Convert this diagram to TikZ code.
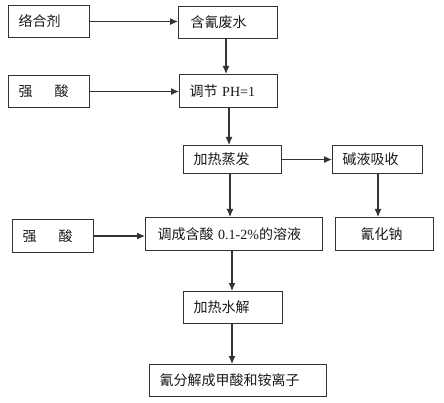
\documentclass[tikz,border=0pt]{standalone}
\usepackage{fontspec}
\setmainfont{Liberation Serif}
\newfontfamily\cjk{Noto Sans CJK SC}
\usetikzlibrary{arrows.meta}
\begin{document}
\begin{tikzpicture}[x=1pt,y=-1pt,
  flowbox/.style={draw=black!80,line width=1.1pt,anchor=north west,inner xsep=10pt,inner ysep=0pt,
    align=left,font=\fontsize{14}{16}\selectfont,text=black!90},
  arr/.style={draw=black!80,line width=1.1pt,-{Latex[length=8pt,width=7pt]}}]
\useasboundingbox (0,0) rectangle (444,403);
% boxes
\node[flowbox,minimum width=81pt,minimum height=32pt,text width=61pt] (A) at (8,5) {\cjk 络合剂};
\node[flowbox,minimum width=99pt,minimum height=32pt,text width=75pt,inner xsep=12pt] (B) at (178,6) {\cjk 含氰废水};
\node[flowbox,minimum width=81pt,minimum height=32pt,text width=61pt] (C) at (8,75) {\cjk 强\hspace{22pt}酸};
\node[flowbox,minimum width=98pt,minimum height=33pt,text width=78pt] (D) at (179,74) {{\cjk 调节} PH=1};
\node[flowbox,minimum width=98pt,minimum height=28pt,text width=78pt] (E) at (183,145) {\cjk 加热蒸发};
\node[flowbox,minimum width=90pt,minimum height=28pt,text width=70pt] (F) at (332,145) {\cjk 碱液吸收};
\node[flowbox,minimum width=81pt,minimum height=33pt,text width=61pt] (G) at (12,219) {\cjk 强\hspace{22pt}酸};
\node[flowbox,minimum width=177pt,minimum height=33pt,text width=153pt,inner xsep=12pt] (H) at (145,217) {{\cjk 调成含酸} 0.1-2\%{\cjk 的溶液}};
\node[flowbox,minimum width=98pt,minimum height=33pt,text width=48pt,inner xsep=25pt] (I) at (335,217) {\cjk 氰化钠};
\node[flowbox,minimum width=99pt,minimum height=32pt,text width=79pt] (J) at (183,291) {\cjk 加热水解};
\node[flowbox,minimum width=177pt,minimum height=32pt,text width=157pt] (K) at (149,364) {\cjk 氰分解成甲酸和铵离子};
% connectors
\draw[arr] (A.east) -- (A.east -| B.west);
\draw[arr] (C.east) -- (C.east -| D.west);
\coordinate (x1) at (226,0);
\coordinate (x2) at (229,0);
\coordinate (x3) at (230,0);
\coordinate (x4) at (232,0);
\coordinate (x5) at (378,0);
\draw[arr] (B.south -| x1) -- (D.north -| x1);
\draw[arr] (D.south -| x2) -- (E.north -| x2);
\draw[arr] (E.south -| x3) -- (H.north -| x3);
\draw[arr] (E.east) -- (E.east -| F.west);
\draw[arr] (F.south -| x5) -- (I.north -| x5);
\draw[arr] (G.east) -- (G.east -| H.west);
\draw[arr] (H.south -| x4) -- (J.north -| x4);
\draw[arr] (J.south -| x4) -- (K.north -| x4);
\end{tikzpicture}
\end{document}
